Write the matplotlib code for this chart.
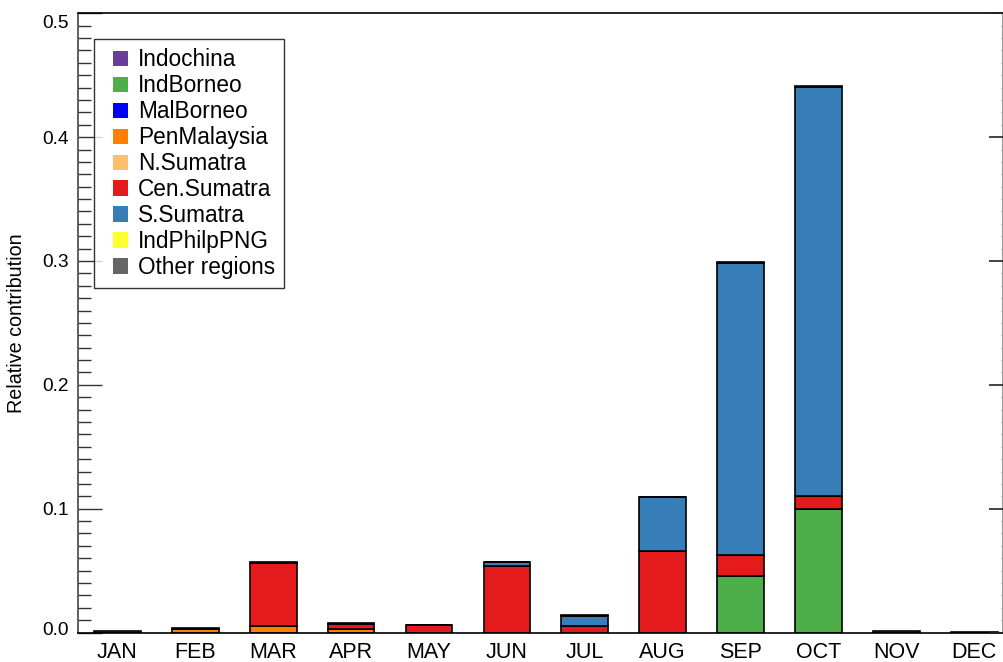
import matplotlib
matplotlib.use("Agg")
import matplotlib.pyplot as plt
import matplotlib.patches as mpatches
from matplotlib.legend_handler import HandlerPatch
from matplotlib.transforms import ScaledTranslation
import numpy as np
from matplotlib.ticker import MultipleLocator

plt.rcParams['font.family'] = ['Liberation Sans', 'DejaVu Sans']

months = ['JAN', 'FEB', 'MAR', 'APR', 'MAY', 'JUN', 'JUL', 'AUG', 'SEP', 'OCT', 'NOV', 'DEC']
regions = ['Indochina', 'IndBorneo', 'MalBorneo', 'PenMalaysia', 'N.Sumatra',
           'Cen.Sumatra', 'S.Sumatra', 'IndPhilpPNG', 'Other regions']
colors = ['#6a3d9a', '#4daf4a', '#0000ff', '#ff7f00', '#fdbf6f',
          '#e41a1c', '#377eb8', '#ffff33', '#666666']
ytick_labels = ['0.0', '0.1', '0.2', '0.3', '0.4', '0.5']

indochina   = [0, 0, 0, 0, 0, 0, 0, 0, 0, 0, 0, 0]
indborneo   = [0, 0, 0, 0, 0, 0, 0, 0, 0.046, 0.100, 0, 0]
malborneo   = [0, 0, 0, 0, 0, 0, 0, 0, 0, 0, 0, 0]
penmalaysia = [0, 0.0025, 0.005, 0.0026, 0, 0, 0, 0, 0, 0, 0, 0]
nsumatra    = [0, 0.0003, 0, 0.0002, 0, 0, 0, 0, 0, 0, 0, 0]
censumatra  = [0, 0, 0.051, 0.0043, 0.006, 0.0537, 0.0053, 0.0661, 0.0168, 0.0105, 0, 0]
ssumatra    = [0, 0, 0, 0, 0, 0.003, 0.0083, 0.0431, 0.2357, 0.3296, 0, 0]
indphilppng = [0, 0, 0, 0, 0, 0, 0, 0, 0, 0, 0, 0]
other       = [0.0015, 0.0008, 0.0006, 0.0005, 0.0004, 0.0003, 0.0004, 0.0006, 0.0009, 0.001, 0.0015, 0.0008]

series = [indochina, indborneo, malborneo, penmalaysia, nsumatra,
          censumatra, ssumatra, indphilppng, other]

W, H = 1004, 662
fig = plt.figure(figsize=(W / 100, H / 100), dpi=100)
AXW = 1003 - 78.5
AXH = 632.5 - 13.3
ax = fig.add_axes([78.5 / W, 1 - 632.5 / H, AXW / W, AXH / H])

x = np.arange(len(months))
bottom = np.zeros(len(months))
for name, vals, c in zip(regions, series, colors):
    v = np.array(vals, dtype=float)
    ax.bar(x, v, width=0.6, bottom=bottom, color=c, edgecolor='black',
           linewidth=1.2, label=name)
    bottom += v

ax.set_xlim(-0.5, 11.37)
ax.set_ylim(0, 0.5)
ax.set_xticks(x)
ax.set_xticklabels(months, fontsize=15.5)
ax.tick_params(axis='x', length=0, pad=7)
ax.yaxis.set_minor_locator(MultipleLocator(0.01))
ax.set_yticks(np.arange(0, 0.51, 0.1))
ax.set_yticklabels(ytick_labels, fontsize=13.8)
ax.tick_params(axis='y', which='major', direction='in', length=17, width=1.0,
               color='#333333', pad=7)
ax.tick_params(axis='y', which='minor', direction='in', length=9, width=1.0,
               color='#333333')
ax.set_ylabel('Relative contribution', fontsize=14.2)
ax.yaxis.set_label_coords(-52.5 / AXW, 0.5)

# shift end labels inward as in the reference
mt = ax.yaxis.get_major_ticks()
mt[-1].label1.set_transform(mt[-1].label1.get_transform() +
                            ScaledTranslation(0, -8.5 / 100, fig.dpi_scale_trans))
mt[0].label1.set_transform(mt[0].label1.get_transform() +
                           ScaledTranslation(0, 4 / 100, fig.dpi_scale_trans))

ax2 = ax.twinx()
ax2.set_ylim(0, 0.5)
ax2.yaxis.set_major_locator(MultipleLocator(0.1))
ax2.yaxis.set_minor_locator(MultipleLocator(0.01))
ax2.tick_params(axis='y', which='major', direction='in', length=10, width=1.2,
                color='#222222', labelright=False)
ax2.tick_params(axis='y', which='minor', direction='in', length=1.5, width=1.0,
                color='#999999')
for s in ['top', 'bottom', 'left', 'right']:
    ax2.spines[s].set_visible(False)

for s in ['top', 'bottom']:
    ax.spines[s].set_color('black')
    ax.spines[s].set_linewidth(1.2)
ax.spines['left'].set_color('#444444')
ax.spines['left'].set_linewidth(1.2)
ax.spines['right'].set_color('#888888')
ax.spines['right'].set_linewidth(1.2)


def square_patch(legend, orig_handle, xdescent, ydescent, width, height, fontsize):
    s = height
    return mpatches.Rectangle((-xdescent + width - s, -ydescent), s, s)


handles = [mpatches.Patch(facecolor=c, edgecolor='none') for c in colors]
leg = ax.legend(handles, regions, loc='upper left',
                bbox_to_anchor=(15.5 / AXW, 1 - 26 / AXH),
                fontsize=16.3, frameon=True, fancybox=False, borderaxespad=0,
                handlelength=1.1, handleheight=0.66, handletextpad=0.45,
                labelspacing=0.13, borderpad=0.4,
                handler_map={mpatches.Patch: HandlerPatch(patch_func=square_patch)})
leg.get_frame().set_edgecolor('black')
leg.get_frame().set_linewidth(1.0)

fig.savefig('out.png', dpi=100)
